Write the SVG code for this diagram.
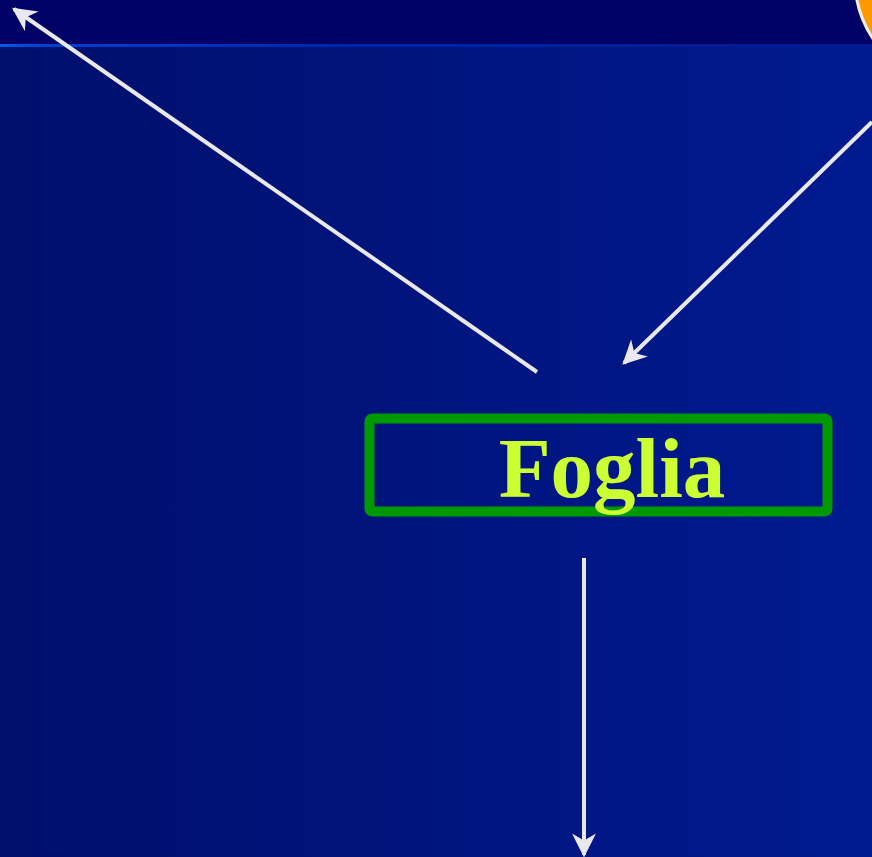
<svg xmlns="http://www.w3.org/2000/svg" width="872" height="857" viewBox="0 0 872 857">
<defs>
<linearGradient id="bg" x1="0" y1="0" x2="1" y2="0">
<stop offset="0" stop-color="#000f6c"/>
<stop offset="1" stop-color="#001a90"/>
</linearGradient>
<linearGradient id="band" x1="0" y1="0" x2="1" y2="0">
<stop offset="0" stop-color="#0a5ae8"/>
<stop offset="0.05" stop-color="#0040d0"/>
<stop offset="0.4" stop-color="#0026a8"/>
<stop offset="1" stop-color="#001a90"/>
</linearGradient>
<marker id="ah" viewBox="0 0 10 10" refX="9" refY="5" markerWidth="6" markerHeight="6" orient="auto" markerUnits="strokeWidth">
<path d="M0,0 L10,5 L0,10 L3,5 z" fill="#e8e8ee"/>
</marker>
<style>
.conn{stroke:#e8e8ee;stroke-width:4;fill:none;marker-end:url(#ah)}
.lbl{font-family:"Liberation Serif","Times New Roman",serif;font-weight:bold;font-size:85px;fill:#ccff33;text-anchor:middle}
</style>
</defs>
<rect x="0" y="0" width="872" height="857" fill="url(#bg)"/>
<rect x="0" y="0" width="872" height="44" fill="#000066"/>
<rect x="0" y="44" width="872" height="3" fill="url(#band)"/>
<circle cx="960" cy="-20" r="105" fill="#ff9900" stroke="#f0f0f0" stroke-width="3"/>
<g id="connectors">
<line class="conn" x1="537" y1="372" x2="14" y2="9"/>
<line class="conn" x1="872" y1="122" x2="624" y2="363"/>
<line class="conn" x1="584" y1="558" x2="584" y2="855"/>
</g>
<g id="foglia">
<rect x="369.5" y="418.5" width="458" height="93" rx="3" fill="none" stroke="#009900" stroke-width="10"/>
<text class="lbl" x="612" y="497">Foglia</text>
</g>
</svg>
